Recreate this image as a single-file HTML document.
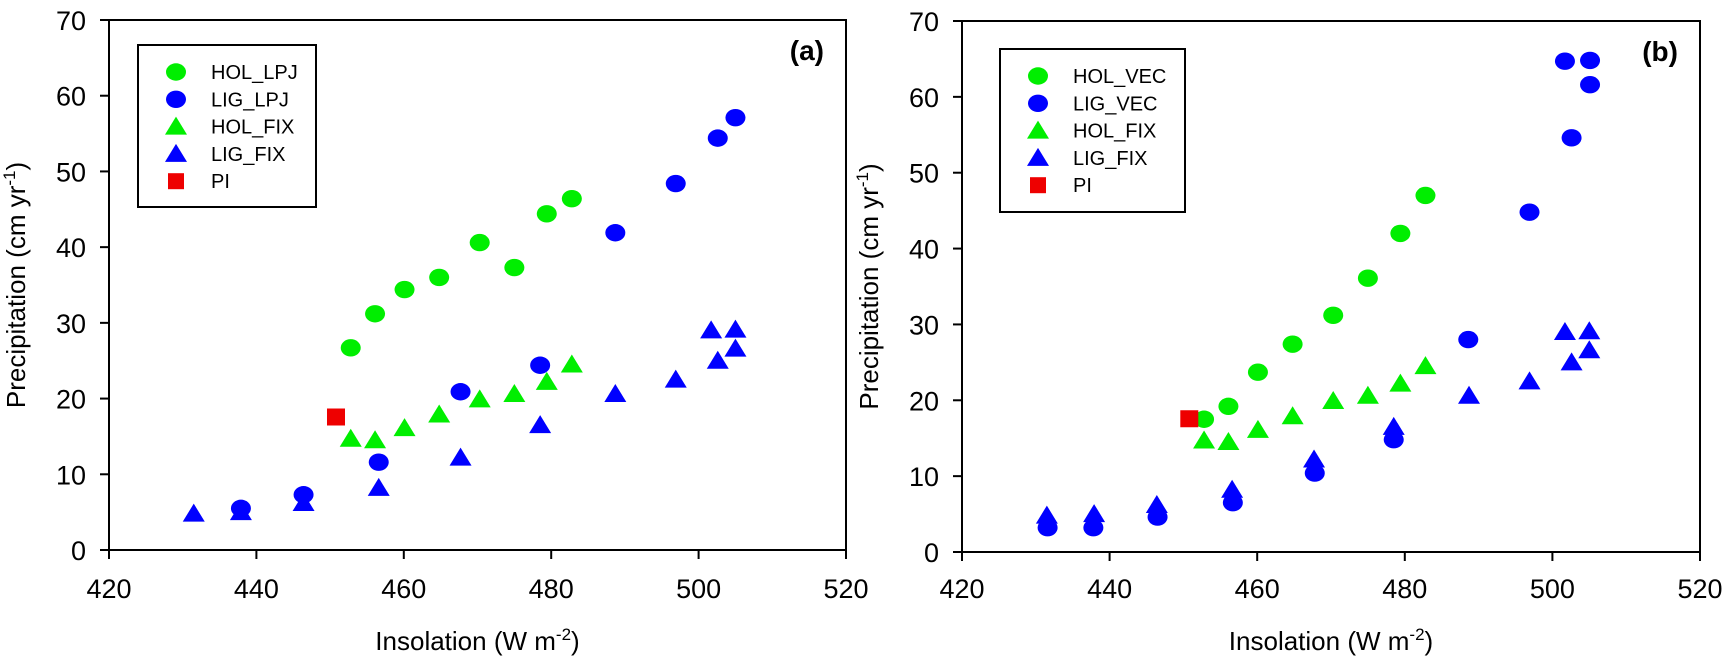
<!DOCTYPE html>
<html><head><meta charset="utf-8"><style>
html,body{margin:0;padding:0;background:#fff;}
svg{display:block;font-family:"Liberation Sans",Arial,sans-serif;}
</style></head><body>
<svg id="chart" width="1728" height="666" viewBox="0 0 1728 666" xmlns="http://www.w3.org/2000/svg"></svg>
<script>
const xTicks=[420,440,460,480,500,520];
const yTicks=[0,10,20,30,40,50,60,70];
const holX=[452.8,456.1,460.1,464.8,470.3,475.0,479.4,482.8];
const ligX=[431.5,437.9,446.4,456.6,467.7,478.5,488.7,496.9,501.7,502.6,505.0,505.0];
const holLPJ=[26.7,31.2,34.4,36.0,40.6,37.3,44.4,46.4];
const ligLPJx=[437.9,446.4,456.6,467.7,478.5,488.7,496.9,502.6,505.0];
const ligLPJ=[5.5,7.3,11.6,20.9,24.4,41.9,48.4,54.4,57.1];
const holFIX=[14.7,14.5,16.1,17.9,19.9,20.6,22.2,24.5];
const ligFIX=[4.8,5.0,6.2,8.2,12.2,16.5,20.6,22.5,29.0,25.0,29.1,26.6];
const holVEC=[17.5,19.2,23.7,27.4,31.2,36.1,42.0,47.0];
const ligVECx=[431.6,437.8,446.5,456.7,467.8,478.5,488.6,496.9,501.7,502.6,505.1,505.1];
const ligVEC=[3.2,3.2,4.6,6.5,10.4,14.8,28.0,44.8,64.7,54.6,64.8,61.6];
const piX=[450.8];
const piY=[17.5];

const NS="http://www.w3.org/2000/svg";
const svg=document.getElementById('chart');
function mk(tag,attrs,parent){const e=document.createElementNS(NS,tag);for(const k in attrs)e.setAttribute(k,attrs[k]);(parent||svg).appendChild(e);return e;}

function panel(p){
  const g=mk('g',{});
  
  
  const sx=v=>p.x0+(v-420)/100*(p.x1-p.x0);
  const sy=v=>p.y0-(v/70)*(p.y0-p.y1);
  const frame=mk('rect',{x:p.x0,y:p.y1,width:p.x1-p.x0,height:p.y0-p.y1,fill:'none',stroke:'#000','stroke-width':2},g);
  
  
  xTicks.forEach(t=>{
    const l=mk('line',{x1:sx(t),x2:sx(t),y1:p.y0,y2:p.y0+9,stroke:'#000','stroke-width':2},g);
    
    
    const tx=mk('text',{x:sx(t),y:598,'font-size':27,'text-anchor':'middle'},g);tx.textContent=t;
    
    
  });
  yTicks.forEach(t=>{
    const l=mk('line',{x1:p.x0-9,x2:p.x0,y1:sy(t),y2:sy(t),stroke:'#000','stroke-width':2},g);
    
    
    const tx=mk('text',{x:p.x0-23,y:sy(t)+10,'font-size':27,'text-anchor':'end'},g);tx.textContent=t;
    
    
  });
  const xt=mk('text',{x:(p.x0+p.x1)/2,y:650,'font-size':26,'text-anchor':'middle'},g);
  xt.innerHTML='Insolation (W m<tspan dy="-10" font-size="17">-2</tspan><tspan dy="10">)</tspan>';
  
  
  const yt=mk('text',{x:0,y:0,'font-size':26,'text-anchor':'middle',transform:`translate(${p.x0-84},${(p.y0+p.y1)/2}) rotate(-90)`},g);
  yt.innerHTML='Precipitation (cm yr<tspan dy="-10" font-size="17">-1</tspan><tspan dy="10">)</tspan>';
  
  
  const pl=mk('text',{x:p.x1-22,y:p.y1+40,'font-size':28,'font-weight':'bold','text-anchor':'end'},g);
  pl.textContent=p.label;
  
  
  const circ=(xs,ys,c,nm)=>xs.forEach((x,i)=>{const e=mk('ellipse',{cx:sx(x),cy:sy(ys[i]),rx:10,ry:8.7,fill:c},g);
    
    });
  const tri=(xs,ys,c,nm)=>xs.forEach((x,i)=>{const X=sx(x),Y=sy(ys[i]);const e=mk('polygon',{points:`${X-11},${Y+8} ${X+11},${Y+8} ${X},${Y-10}`,fill:c},g);
    
    });
  tri(holX,holFIX,'#00ee00','hol-fix-point');
  tri(ligX,ligFIX,'#0000ff','lig-fix-point');
  circ(holX,p.holY,'#00ee00',p.holName+'-point');
  circ(p.ligXs,p.ligY,'#0000ff',p.ligName+'-point');
  piX.forEach((x,i)=>{const e=mk('rect',{x:sx(x)-9,y:sy(piY[i])-9,width:18,height:17,fill:'#ee0000'},g);
    
    });
  // legend
  const L=p.leg;
  const lb=mk('rect',{x:L.x,y:L.y,width:L.w,height:L.h,fill:'#fff',stroke:'#000','stroke-width':2},g);
  
  
  const items=[[p.names[0],'c','#00ee00'],[p.names[1],'c','#0000ff'],['HOL_FIX','t','#00ee00'],['LIG_FIX','t','#0000ff'],['PI','s','#ee0000']];
  items.forEach((it,i)=>{
    const mx=L.x+38, my=L.y+27+i*27.3;
    let m;
    if(it[1]==='c') m=mk('ellipse',{cx:mx,cy:my,rx:10,ry:8.7,fill:it[2]},g);
    else if(it[1]==='t') m=mk('polygon',{points:`${mx-11},${my+8} ${mx+11},${my+8} ${mx},${my-10}`,fill:it[2]},g);
    else m=mk('rect',{x:mx-8,y:my-8,width:16,height:16,fill:it[2]},g);
    
    
    const t=mk('text',{x:L.x+73,y:my+7,'font-size':20},g);t.textContent=it[0];
    
    
  });
}
panel({id:'a',label:'(a)',x0:109,x1:846,y0:550,y1:20,holY:holLPJ,ligXs:ligLPJx,ligY:ligLPJ,holName:'hol-lpj',ligName:'lig-lpj',names:['HOL_LPJ','LIG_LPJ'],leg:{x:138,y:45,w:178,h:162}});
panel({id:'b',label:'(b)',x0:962,x1:1700,y0:552,y1:21,holY:holVEC,ligXs:ligVECx,ligY:ligVEC,holName:'hol-vec',ligName:'lig-vec',names:['HOL_VEC','LIG_VEC'],leg:{x:1000,y:49,w:185,h:163}});
</script>
</body></html>
